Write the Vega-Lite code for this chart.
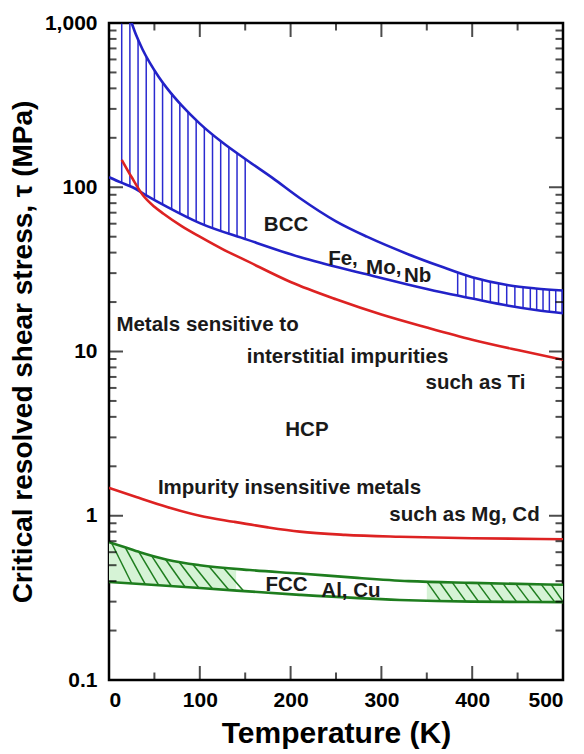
{
  "$schema": "https://vega.github.io/schema/vega-lite/v6.json",
  "width": 454,
  "height": 657,
  "autosize": {"type": "none"},
  "padding": {"left": 109, "top": 23, "right": 21, "bottom": 74},
  "background": "white",
  "config": {
    "view": {"stroke": "black", "strokeWidth": 2.5},
    "axis": {
      "grid": false,
      "domain": false,
      "ticks": false,
      "labelFont": "Liberation Sans",
      "labelFontWeight": "bold",
      "labelColor": "black",
      "labelFontSize": 21,
      "titleFont": "Liberation Sans",
      "titleFontWeight": "bold",
      "titleColor": "black"
    }
  },
  "datasets": {
    "curves": [
      {"s": "bccU", "T": 25, "v": 1000}, {"s": "bccU", "T": 30, "v": 841}, {"s": "bccU", "T": 37, "v": 690}, {"s": "bccU", "T": 45, "v": 571}, {"s": "bccU", "T": 55, "v": 468}, {"s": "bccU", "T": 64, "v": 400}, {"s": "bccU", "T": 80, "v": 315}, {"s": "bccU", "T": 100, "v": 244}, {"s": "bccU", "T": 125, "v": 187}, {"s": "bccU", "T": 152, "v": 146}, {"s": "bccU", "T": 180, "v": 114}, {"s": "bccU", "T": 210, "v": 86}, {"s": "bccU", "T": 250, "v": 62}, {"s": "bccU", "T": 284, "v": 50}, {"s": "bccU", "T": 330, "v": 39}, {"s": "bccU", "T": 365, "v": 33}, {"s": "bccU", "T": 400, "v": 28.3}, {"s": "bccU", "T": 440, "v": 25.3}, {"s": "bccU", "T": 470, "v": 24.2}, {"s": "bccU", "T": 500, "v": 23.5},
      {"s": "bccL", "T": 0, "v": 115}, {"s": "bccL", "T": 13, "v": 107}, {"s": "bccL", "T": 26, "v": 100}, {"s": "bccL", "T": 40, "v": 90}, {"s": "bccL", "T": 64, "v": 76}, {"s": "bccL", "T": 100, "v": 60.5}, {"s": "bccL", "T": 152, "v": 48}, {"s": "bccL", "T": 210, "v": 37.6}, {"s": "bccL", "T": 284, "v": 29.5}, {"s": "bccL", "T": 330, "v": 25.5}, {"s": "bccL", "T": 365, "v": 23}, {"s": "bccL", "T": 400, "v": 21}, {"s": "bccL", "T": 440, "v": 19}, {"s": "bccL", "T": 470, "v": 17.9}, {"s": "bccL", "T": 500, "v": 17.1},
      {"s": "hcpS", "T": 14, "v": 147}, {"s": "hcpS", "T": 25, "v": 115}, {"s": "hcpS", "T": 37, "v": 90}, {"s": "hcpS", "T": 50, "v": 76}, {"s": "hcpS", "T": 60, "v": 69}, {"s": "hcpS", "T": 80, "v": 58}, {"s": "hcpS", "T": 100, "v": 50}, {"s": "hcpS", "T": 125, "v": 42}, {"s": "hcpS", "T": 150, "v": 36}, {"s": "hcpS", "T": 200, "v": 26.5}, {"s": "hcpS", "T": 250, "v": 20.8}, {"s": "hcpS", "T": 300, "v": 16.8}, {"s": "hcpS", "T": 350, "v": 14}, {"s": "hcpS", "T": 400, "v": 11.8}, {"s": "hcpS", "T": 450, "v": 10.2}, {"s": "hcpS", "T": 500, "v": 8.9},
      {"s": "hcpI", "T": 0, "v": 1.48}, {"s": "hcpI", "T": 30, "v": 1.3}, {"s": "hcpI", "T": 64, "v": 1.13}, {"s": "hcpI", "T": 100, "v": 1.0}, {"s": "hcpI", "T": 137, "v": 0.92}, {"s": "hcpI", "T": 175, "v": 0.85}, {"s": "hcpI", "T": 210, "v": 0.8}, {"s": "hcpI", "T": 260, "v": 0.765}, {"s": "hcpI", "T": 320, "v": 0.745}, {"s": "hcpI", "T": 400, "v": 0.73}, {"s": "hcpI", "T": 500, "v": 0.72},
      {"s": "fccU", "T": 0, "v": 0.69}, {"s": "fccU", "T": 15, "v": 0.65}, {"s": "fccU", "T": 34, "v": 0.6}, {"s": "fccU", "T": 64, "v": 0.54}, {"s": "fccU", "T": 100, "v": 0.5}, {"s": "fccU", "T": 155, "v": 0.467}, {"s": "fccU", "T": 210, "v": 0.445}, {"s": "fccU", "T": 270, "v": 0.42}, {"s": "fccU", "T": 330, "v": 0.4}, {"s": "fccU", "T": 400, "v": 0.39}, {"s": "fccU", "T": 500, "v": 0.38},
      {"s": "fccL", "T": 0, "v": 0.395}, {"s": "fccL", "T": 100, "v": 0.363}, {"s": "fccL", "T": 210, "v": 0.33}, {"s": "fccL", "T": 320, "v": 0.307}, {"s": "fccL", "T": 400, "v": 0.3}, {"s": "fccL", "T": 500, "v": 0.298}
    ],
    "fccFill": [
      {"g": "L", "T": 0, "lo": 0.395, "hi": 0.69}, {"g": "L", "T": 15, "lo": 0.39, "hi": 0.65}, {"g": "L", "T": 34, "lo": 0.383, "hi": 0.6}, {"g": "L", "T": 64, "lo": 0.372, "hi": 0.54}, {"g": "L", "T": 100, "lo": 0.363, "hi": 0.5}, {"g": "L", "T": 120, "lo": 0.357, "hi": 0.488}, {"g": "L", "T": 140, "lo": 0.351, "hi": 0.476},
      {"g": "R", "T": 350, "lo": 0.305, "hi": 0.397}, {"g": "R", "T": 400, "lo": 0.3, "hi": 0.39}, {"g": "R", "T": 450, "lo": 0.299, "hi": 0.385}, {"g": "R", "T": 500, "lo": 0.298, "hi": 0.38}
    ],
    "fccHatch": [
      {"id": "L1", "T": 3, "v": 0.68}, {"id": "L1", "T": 25, "v": 0.387},
      {"id": "L2", "T": 18, "v": 0.64}, {"id": "L2", "T": 40, "v": 0.382},
      {"id": "L3", "T": 33, "v": 0.6}, {"id": "L3", "T": 55, "v": 0.376},
      {"id": "L4", "T": 47, "v": 0.57}, {"id": "L4", "T": 69, "v": 0.371},
      {"id": "L5", "T": 62, "v": 0.545}, {"id": "L5", "T": 84, "v": 0.367},
      {"id": "L6", "T": 77, "v": 0.525}, {"id": "L6", "T": 99, "v": 0.363},
      {"id": "L7", "T": 92, "v": 0.508}, {"id": "L7", "T": 114, "v": 0.359},
      {"id": "L8", "T": 110, "v": 0.493}, {"id": "L8", "T": 132, "v": 0.353},
      {"id": "L9", "T": 126, "v": 0.482}, {"id": "L9", "T": 148, "v": 0.349},
      {"id": "R1", "T": 350, "v": 0.397}, {"id": "R1", "T": 365, "v": 0.303},
      {"id": "R2", "T": 364, "v": 0.395}, {"id": "R2", "T": 379, "v": 0.302},
      {"id": "R3", "T": 378, "v": 0.393}, {"id": "R3", "T": 393, "v": 0.301},
      {"id": "R4", "T": 392, "v": 0.391}, {"id": "R4", "T": 407, "v": 0.3},
      {"id": "R5", "T": 406, "v": 0.389}, {"id": "R5", "T": 421, "v": 0.3},
      {"id": "R6", "T": 420, "v": 0.388}, {"id": "R6", "T": 435, "v": 0.299},
      {"id": "R7", "T": 434, "v": 0.386}, {"id": "R7", "T": 449, "v": 0.299},
      {"id": "R8", "T": 448, "v": 0.385}, {"id": "R8", "T": 463, "v": 0.299},
      {"id": "R9", "T": 462, "v": 0.383}, {"id": "R9", "T": 477, "v": 0.298},
      {"id": "R10", "T": 476, "v": 0.382}, {"id": "R10", "T": 491, "v": 0.298},
      {"id": "R11", "T": 487, "v": 0.381}, {"id": "R11", "T": 500, "v": 0.3}
    ],
    "bccHatch": [
      {"T": 14, "lo": 106.5, "hi": 1000}, {"T": 23, "lo": 101.5, "hi": 1000}, {"T": 32, "lo": 96, "hi": 790}, {"T": 41, "lo": 89.5, "hi": 620}, {"T": 50, "lo": 84, "hi": 515}, {"T": 59, "lo": 79, "hi": 438}, {"T": 69, "lo": 73.5, "hi": 375}, {"T": 78, "lo": 69, "hi": 324}, {"T": 87, "lo": 65.5, "hi": 286}, {"T": 96, "lo": 62, "hi": 256}, {"T": 105, "lo": 59, "hi": 231}, {"T": 114, "lo": 56, "hi": 210}, {"T": 123, "lo": 53.5, "hi": 191}, {"T": 132, "lo": 51.5, "hi": 174}, {"T": 141, "lo": 50, "hi": 160}, {"T": 150, "lo": 48.5, "hi": 148},
      {"T": 384, "lo": 21.9, "hi": 30.3}, {"T": 393, "lo": 21.4, "hi": 29.1}, {"T": 402, "lo": 20.9, "hi": 28.1}, {"T": 411, "lo": 20.4, "hi": 27.4}, {"T": 420, "lo": 19.9, "hi": 26.7}, {"T": 429, "lo": 19.5, "hi": 26.1}, {"T": 438, "lo": 19.1, "hi": 25.4}, {"T": 447, "lo": 18.7, "hi": 25.0}, {"T": 456, "lo": 18.4, "hi": 24.7}, {"T": 464, "lo": 18.1, "hi": 24.4}, {"T": 471, "lo": 17.9, "hi": 24.2}, {"T": 478, "lo": 17.7, "hi": 24.0}, {"T": 485, "lo": 17.5, "hi": 23.8}, {"T": 492, "lo": 17.3, "hi": 23.7}, {"T": 499, "lo": 17.1, "hi": 23.5}
    ],
    "labels": [
      {"text": "BCC", "T": 195, "v": 58.9},
      {"text": "Fe,", "T": 257.7, "v": 36.5},
      {"text": "Mo,", "T": 302.6, "v": 32.2},
      {"text": "Nb", "T": 340, "v": 28.9},
      {"text": "Metals sensitive to", "T": 108.5, "v": 14.5},
      {"text": "interstitial impurities", "T": 262.7, "v": 9.27},
      {"text": "such as Ti", "T": 403.6, "v": 6.43},
      {"text": "HCP", "T": 218, "v": 3.33},
      {"text": "Impurity insensitive metals", "T": 198.8, "v": 1.476},
      {"text": "such as Mg, Cd", "T": 391.5, "v": 1.01},
      {"text": "FCC", "T": 195.5, "v": 0.379},
      {"text": "Al, Cu", "T": 266.5, "v": 0.348}
    ],
    "ticksY": [
      {"v": 0.1, "k": "major"}, {"v": 1, "k": "major"}, {"v": 10, "k": "major"}, {"v": 100, "k": "major"}, {"v": 1000, "k": "major"},
      {"v": 0.2, "k": "minor"}, {"v": 0.3, "k": "minor"}, {"v": 0.4, "k": "minor"}, {"v": 0.5, "k": "minor"}, {"v": 0.6, "k": "minor"}, {"v": 0.7, "k": "minor"}, {"v": 0.8, "k": "minor"}, {"v": 0.9, "k": "minor"},
      {"v": 2, "k": "minor"}, {"v": 3, "k": "minor"}, {"v": 4, "k": "minor"}, {"v": 5, "k": "minor"}, {"v": 6, "k": "minor"}, {"v": 7, "k": "minor"}, {"v": 8, "k": "minor"}, {"v": 9, "k": "minor"},
      {"v": 20, "k": "minor"}, {"v": 30, "k": "minor"}, {"v": 40, "k": "minor"}, {"v": 50, "k": "minor"}, {"v": 60, "k": "minor"}, {"v": 70, "k": "minor"}, {"v": 80, "k": "minor"}, {"v": 90, "k": "minor"},
      {"v": 200, "k": "minor"}, {"v": 300, "k": "minor"}, {"v": 400, "k": "minor"}, {"v": 500, "k": "minor"}, {"v": 600, "k": "minor"}, {"v": 700, "k": "minor"}, {"v": 800, "k": "minor"}, {"v": 900, "k": "minor"}
    ],
    "ticksX": [
      {"T": 0, "k": "major"}, {"T": 100, "k": "major"}, {"T": 200, "k": "major"}, {"T": 300, "k": "major"}, {"T": 400, "k": "major"}, {"T": 500, "k": "major"},
      {"T": 50, "k": "minor"}, {"T": 150, "k": "minor"}, {"T": 250, "k": "minor"}, {"T": 350, "k": "minor"}, {"T": 450, "k": "minor"}
    ]
  },
  "layer": [
    {
      "data": {"name": "fccFill"},
      "mark": {"type": "area", "color": "#d6f3d6", "clip": true},
      "encoding": {
        "x": {"field": "T", "type": "quantitative", "scale": {"domain": [0, 500], "nice": false, "zero": false},
          "axis": {"orient": "bottom", "values": [0, 100, 200, 300, 400, 500], "labelPadding": 9,
            "title": "Temperature (K)", "titleFontSize": 30, "titlePadding": 8}},
        "y": {"field": "hi", "type": "quantitative", "scale": {"type": "log", "domain": [0.1, 1000], "nice": false},
          "axis": {"orient": "left", "values": [0.1, 1, 10, 100, 1000], "format": ",~g", "labelPadding": 12,
            "title": "Critical resolved shear stress, τ (MPa)", "titleFontSize": 28, "titlePadding": 7}},
        "y2": {"field": "lo"},
        "detail": {"field": "g"}
      }
    },
    {
      "data": {"name": "fccHatch"},
      "mark": {"type": "line", "color": "#1e7d1e", "strokeWidth": 1.5, "clip": true},
      "encoding": {
        "x": {"field": "T", "type": "quantitative"},
        "y": {"field": "v", "type": "quantitative"},
        "detail": {"field": "id"}
      }
    },
    {
      "data": {"name": "bccHatch"},
      "mark": {"type": "rule", "color": "#2a2ad0", "strokeWidth": 1.5, "clip": true},
      "encoding": {
        "x": {"field": "T", "type": "quantitative"},
        "y": {"field": "lo", "type": "quantitative"},
        "y2": {"field": "hi"}
      }
    },
    {
      "data": {"name": "curves"},
      "mark": {"type": "line", "strokeWidth": 2.6, "interpolate": "monotone", "clip": true},
      "encoding": {
        "x": {"field": "T", "type": "quantitative"},
        "y": {"field": "v", "type": "quantitative"},
        "color": {"field": "s", "type": "nominal", "legend": null,
          "scale": {"domain": ["bccU", "bccL", "hcpS", "hcpI", "fccU", "fccL"], "range": ["#2222c8", "#2222c8", "#dd2222", "#dd2222", "#1e7d1e", "#1e7d1e"]}}
      }
    },
    {
      "data": {"name": "ticksY"},
      "mark": {"type": "tick", "orient": "horizontal", "thickness": 2, "color": "black", "clip": true},
      "encoding": {
        "y": {"field": "v", "type": "quantitative"},
        "x": {"datum": 0},
        "size": {"field": "k", "type": "nominal", "legend": null, "scale": {"domain": ["major", "minor"], "range": [28, 15]}}
      }
    },
    {
      "data": {"name": "ticksY"},
      "mark": {"type": "tick", "orient": "horizontal", "thickness": 2, "color": "black", "clip": true},
      "encoding": {
        "y": {"field": "v", "type": "quantitative"},
        "x": {"datum": 500},
        "size": {"field": "k", "type": "nominal", "legend": null, "scale": {"domain": ["major", "minor"], "range": [28, 15]}}
      }
    },
    {
      "data": {"name": "ticksX"},
      "mark": {"type": "tick", "orient": "vertical", "thickness": 2, "color": "black", "clip": true},
      "encoding": {
        "x": {"field": "T", "type": "quantitative"},
        "y": {"datum": 0.1},
        "size": {"field": "k", "type": "nominal", "legend": null, "scale": {"domain": ["major", "minor"], "range": [28, 15]}}
      }
    },
    {
      "data": {"name": "ticksX"},
      "mark": {"type": "tick", "orient": "vertical", "thickness": 2, "color": "black", "clip": true},
      "encoding": {
        "x": {"field": "T", "type": "quantitative"},
        "y": {"datum": 1000},
        "size": {"field": "k", "type": "nominal", "legend": null, "scale": {"domain": ["major", "minor"], "range": [28, 15]}}
      }
    },
    {
      "data": {"name": "labels"},
      "mark": {"type": "text", "font": "Liberation Sans", "fontWeight": "bold", "fontSize": 20.5, "color": "#1a1a1a", "align": "center", "baseline": "middle"},
      "encoding": {
        "x": {"field": "T", "type": "quantitative"},
        "y": {"field": "v", "type": "quantitative"},
        "text": {"field": "text"}
      }
    }
  ]
}
